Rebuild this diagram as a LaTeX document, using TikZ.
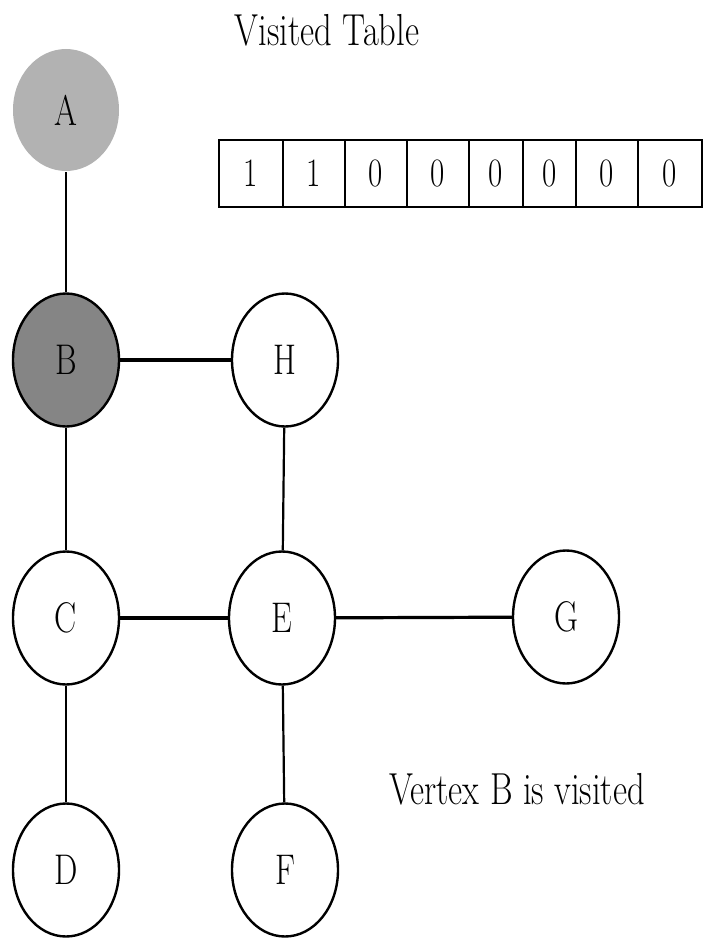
\documentclass[tikz,border=0pt]{standalone}
\usetikzlibrary{shapes.geometric}
\begin{document}
\begin{tikzpicture}[x=1pt,y=-1pt,
  vert/.style={ellipse,draw=black,line width=2.4pt,minimum width=106pt,minimum height=133pt,inner sep=0pt,fill=white,font=\fontsize{33}{33}\selectfont},
  edge/.style={line width=2.2pt},
  hedge/.style={line width=3.2pt},
  cell/.style={draw=black,line width=2pt,minimum height=67pt,inner sep=0pt,font=\fontsize{31}{31}\selectfont},
  lbl/.style={font=\fontsize{34.5}{34.5}\selectfont,inner sep=0pt}]
\useasboundingbox (0,0) rectangle (711,939);
\newcommand{\ys}[1]{\scalebox{1}[1.3]{#1}}
% title
\node[lbl] (title) at (327,30) {\ys{Visited Table}};
% table
\foreach \l/\r/\v [count=\i] in {219/283/1,283/345/1,345/407/0,407/469/0,469/523/0,523/576/0,576/638/0,638/702/0}{
  \node[cell,minimum width={\r-\l}] (t\i) at ({(\l+\r)/2},173.5) {\ys{\v}};
}
% vertices
\node[vert,draw=none,fill=black!30,minimum height=122pt] (A) at (66,110) {\ys{A}};
\node[vert,fill=black!48] (B) at (66,360) {\ys{B}};
\node[vert] (H) at (285,360) {\ys{H}};
\node[vert] (C) at (66,618) {\ys{C}};
\node[vert] (E) at (282,618) {\ys{E}};
\node[vert] (G) at (566,617) {\ys{G}};
\node[vert] (D) at (66,870) {\ys{D}};
\node[vert] (F) at (285,870) {\ys{F}};
% edges
\draw[edge] (A) -- (B);
\draw[hedge] (B) -- (H);
\draw[edge] (B) -- (C);
\draw[edge] (H) -- (E);
\draw[hedge] (C) -- (E);
\draw[hedge] (E) -- (G);
\draw[edge] (C) -- (D);
\draw[edge] (E) -- (F);
% caption
\node[lbl] (cap) at (517,789) {\ys{Vertex B is visited}};
\end{tikzpicture}
\end{document}
